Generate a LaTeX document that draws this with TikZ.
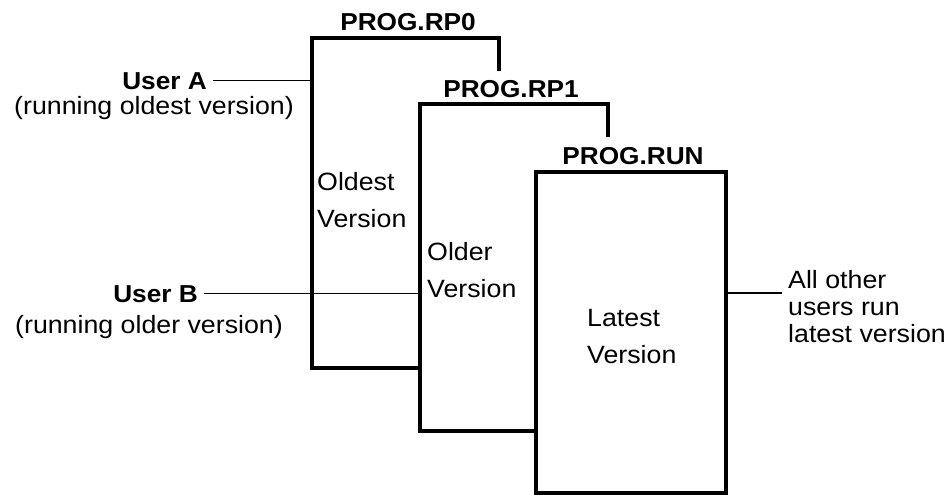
\documentclass[tikz,border=0pt]{standalone}
\usepackage{fontspec}
\setmainfont{Liberation Sans}[FakeStretch=1.07]
\begin{document}
\begin{tikzpicture}[x=1pt,y=-1pt,
  boxline/.style={line width=4pt,line join=miter},
  conn/.style={line width=1.5pt},
  lbl/.style={inner sep=0pt,font=\fontsize{25}{37}\selectfont},
  title/.style={inner sep=0pt,font=\fontsize{24.5}{28}\selectfont\bfseries},
  side/.style={inner sep=0pt,font=\fontsize{25}{27}\selectfont}]
\useasboundingbox (0,0) rectangle (948,495);
% box corners
\coordinate (b0tl) at (312,38);  \coordinate (b0tr) at (499,38);
\coordinate (b0re) at (499,71);  \coordinate (b0bl) at (312,368);
\coordinate (b1tl) at (420,104); \coordinate (b1tr) at (608,104);
\coordinate (b1re) at (608,137); \coordinate (b1bl) at (420,431);
\coordinate (b2tl) at (536,172); \coordinate (b2br) at (726,493);
% boxes
\draw[boxline] (b0re) -- (b0tr) -- (b0tl) -- (b0bl) -- (b0bl -| b1tl);
\draw[boxline] (b1re) -- (b1tr) -- (b1tl) -- (b1bl) -- (b1bl -| b2tl);
\draw[boxline] (b2tl) rectangle (b2br);
% titles
\node[title,anchor=base] (t0) at (408,31) {PROG.RP0};
\node[title,anchor=base] (t1) at (511,97) {PROG.RP1};
\node[title,anchor=base] (t2) at (633,164) {PROG.RUN};
% box labels (base = last line)
\node[lbl,anchor=base west,align=left] (l0) at (317,227) {Oldest\\Version};
\node[lbl,anchor=base west,align=left] (l1) at (427,297) {Older\\Version};
\node[lbl,anchor=base west,align=left] (l2) at (587,363) {Latest\\Version};
% users
\node[title,anchor=base east] (ua) at (207,89) {User A};
\node[lbl,anchor=base] (uan) at (154,114) {(running oldest version)};
\node[title,anchor=base east] (ub) at (198,302) {User B};
\node[lbl,anchor=base] (ubn) at (149,333) {(running older version)};
\node[side,anchor=base west,align=left] (oth) at (788,342) {All other\\users run\\latest version};
% connectors
\coordinate (uaS) at ([xshift=6pt]ua.east);
\coordinate (ubS) at ([xshift=6pt]ub.east);
\draw[conn] (uaS) -- (uaS -| b0tl);
\draw[conn] (ubS) -- (ubS -| b1tl);
\coordinate (othS) at (782,293);
\draw[conn] (othS) -- (othS -| b2br);
\end{tikzpicture}
\end{document}
